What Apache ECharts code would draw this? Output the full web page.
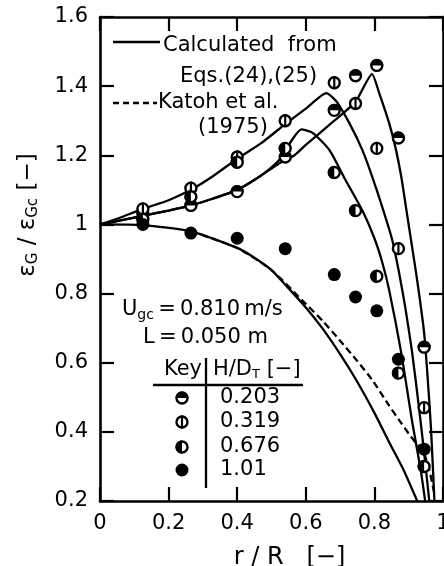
<!DOCTYPE html>
<html lang="en">
<head>
    <meta charset="UTF-8">
    <title>Gas holdup profile</title>
    <script src="https://cdn.jsdelivr.net/npm/echarts@6/dist/echarts.min.js"></script>
    <style>
        html, body { margin: 0; padding: 0; background: #fff; }
        #stat-1 { width: 444px; height: 566px; }
    </style>
</head>
<body>
<div id="stat-1"></div>
<script type="text/javascript">
    // measured points, r/R positions of the probes
    var rPts = [0.125, 0.265, 0.40, 0.54, 0.683, 0.745, 0.807, 0.87, 0.945];
    var h0203 = [1.03, 1.055, 1.095, 1.195, 1.33, 1.43, 1.46, 1.25, 0.645];
    var h0319 = [1.045, 1.105, 1.195, 1.30, 1.41, 1.35, 1.22, 0.93, 0.47];
    var h0676 = [1.015, 1.08, 1.18, 1.22, 1.15, 1.04, 0.85, 0.57, 0.30];
    var h101  = [1.0, 0.975, 0.96, 0.93, 0.855, 0.79, 0.75, 0.61, 0.35];

    // calculated curves
    var calcA_r = [0, 0.06, 0.125, 0.2, 0.265, 0.33, 0.4, 0.46, 0.5, 0.53, 0.56, 0.587, 0.62, 0.669, 0.715, 0.765, 0.80, 0.823, 0.843, 0.878, 0.91, 0.935, 0.948];
    var calcA_y = [1, 1.012, 1.025, 1.04, 1.055, 1.075, 1.10, 1.135, 1.165, 1.195, 1.245, 1.275, 1.265, 1.215, 1.13, 1.04, 0.96, 0.89, 0.81, 0.63, 0.43, 0.29, 0.2];
    var calcB_r = [0, 0.06, 0.125, 0.2, 0.265, 0.33, 0.4, 0.47, 0.54, 0.6, 0.66, 0.69, 0.727, 0.765, 0.794, 0.823, 0.852, 0.872, 0.89, 0.91, 0.93, 0.945, 0.96];
    var calcB_y = [1, 1.02, 1.045, 1.07, 1.10, 1.14, 1.19, 1.235, 1.29, 1.335, 1.38, 1.355, 1.293, 1.215, 1.137, 1.05, 0.955, 0.86, 0.76, 0.63, 0.47, 0.34, 0.2];
    var calcC_r = [0, 0.06, 0.125, 0.2, 0.265, 0.33, 0.4, 0.46, 0.52, 0.567, 0.6, 0.683, 0.745, 0.793, 0.814, 0.843, 0.862, 0.878, 0.892, 0.906, 0.92, 0.933, 0.945, 0.955, 0.965, 0.975];
    var calcC_y = [1, 1.012, 1.025, 1.04, 1.055, 1.075, 1.10, 1.135, 1.175, 1.20, 1.23, 1.30, 1.355, 1.435, 1.38, 1.293, 1.22, 1.14, 1.05, 0.96, 0.87, 0.78, 0.686, 0.56, 0.41, 0.2];
    var calcD_r = [0, 0.125, 0.265, 0.4, 0.44, 0.5, 0.55, 0.6, 0.648, 0.7, 0.747, 0.8, 0.843, 0.885, 0.925];
    var calcD_y = [1, 0.998, 0.98, 0.932, 0.91, 0.868, 0.815, 0.76, 0.70, 0.625, 0.55, 0.455, 0.37, 0.29, 0.2];
    var katoh_r = [0.265, 0.4, 0.5, 0.59, 0.65, 0.698, 0.75, 0.794, 0.84, 0.872, 0.9, 0.921, 0.94, 0.96, 0.975];
    var katoh_y = [0.98, 0.932, 0.868, 0.78, 0.72, 0.666, 0.605, 0.55, 0.48, 0.434, 0.395, 0.368, 0.35, 0.29, 0.22];

    var xTicks = ['0', '0.2', '0.4', '0.6', '0.8', '1'];
    var keyLabels = ['0.203', '0.319', '0.676', '1.01'];
    var keyKinds = ['top', 'bar', 'left', 'full'];

    var FONT = 'DejaVu Sans';
    var MR = 6.5;

    function pairs(xs, ys) {
        var out = [];
        for (let i = 0; i < xs.length; i++) out.push([xs[i], ys[i]]);
        return out;
    }

    function markerShape(kind, cx, cy, r) {
        var kids = [];
        if (kind === 'full') {
            kids.push({type: 'circle', shape: {cx: cx, cy: cy, r: r}, style: {fill: '#000'}});
        } else {
            kids.push({type: 'circle', shape: {cx: cx, cy: cy, r: r - 1}, style: {fill: '#fff', stroke: '#000', lineWidth: 2.4}});
            if (kind === 'top') {
                kids.push({type: 'sector', shape: {cx: cx, cy: cy, r0: 0, r: r, startAngle: Math.PI, endAngle: 2 * Math.PI}, style: {fill: '#000'}});
            } else if (kind === 'left') {
                kids.push({type: 'sector', shape: {cx: cx, cy: cy, r0: 0, r: r, startAngle: Math.PI / 2, endAngle: 3 * Math.PI / 2}, style: {fill: '#000'}});
            } else if (kind === 'bar') {
                kids.push({type: 'rect', shape: {x: cx - 1.1, y: cy - r, width: 2.2, height: 2 * r}, style: {fill: '#000'}});
            }
        }
        return kids;
    }

    function markerSeries(name, ys, kind) {
        return {
            name: name,
            type: 'custom',
            z: 5,
            data: pairs(rPts, ys),
            renderItem: function (params, api) {
                var p = api.coord([api.value(0), api.value(1)]);
                return {type: 'group', children: markerShape(kind, p[0], p[1], MR)};
            }
        };
    }

    function lineSeries(name, xs, ys, dashed) {
        return {
            name: name,
            type: 'line',
            data: pairs(xs, ys),
            smooth: 0.2,
            showSymbol: false,
            symbol: 'none',
            z: 2,
            lineStyle: {color: '#000', width: 2.3, type: dashed ? [7, 4] : 'solid'}
        };
    }

    var f21 = '21px "' + FONT + '"';

    // legend / annotations
    var graphics = [
        {type: 'line', shape: {x1: 113, y1: 42, x2: 160, y2: 42}, style: {stroke: '#000', lineWidth: 2.3}},
        {type: 'text', x: 163, y: 46, style: {text: 'Calculated  from', font: f21, fill: '#000', verticalAlign: 'middle'}},
        {type: 'text', x: 180, y: 77, style: {text: 'Eqs.(24),(25)', font: f21, fill: '#000', verticalAlign: 'middle'}},
        {type: 'line', shape: {x1: 113, y1: 103, x2: 157, y2: 103}, style: {stroke: '#000', lineWidth: 2.3, lineDash: [6, 4]}},
        {type: 'text', x: 158, y: 103, style: {text: 'Katoh et al.', font: f21, fill: '#000', verticalAlign: 'middle'}},
        {type: 'text', x: 198, y: 128, style: {text: '(1975)', font: f21, fill: '#000', verticalAlign: 'middle'}},
        {type: 'text', x: 122, y: 310, style: {
            text: 'U{s|gc}\u2009=\u20090.810\u2009m/s', fill: '#000', verticalAlign: 'middle',
            font: f21,
            rich: {s: {fontSize: 14, fontFamily: FONT, padding: [10, 0, 0, 0]}}
        }},
        {type: 'text', x: 143, y: 338, style: {text: 'L\u2009=\u20090.050 m', font: f21, fill: '#000', verticalAlign: 'middle'}},
        {type: 'text', x: 202, y: 370, style: {text: 'Key', font: f21, fill: '#000', align: 'right', verticalAlign: 'middle'}},
        {type: 'text', x: 213, y: 370, style: {
            text: 'H/D{s|T} [−]', fill: '#000', verticalAlign: 'middle',
            font: f21,
            rich: {s: {fontSize: 13, fontFamily: FONT, padding: [10, 0, 0, 0]}}
        }},
        {type: 'line', shape: {x1: 206, y1: 358, x2: 206, y2: 488}, style: {stroke: '#000', lineWidth: 2.3}},
        {type: 'line', shape: {x1: 153, y1: 385, x2: 303, y2: 385}, style: {stroke: '#000', lineWidth: 2.3}},
        // y axis title, rotated
        {type: 'text', x: 28, y: 215, rotation: Math.PI / 2, style: {
            text: 'ε{s|G} / ε{s|Gc} [−]', fill: '#000', align: 'center', verticalAlign: 'middle',
            font: '23px "' + FONT + '"',
            rich: {s: {fontSize: 15, fontFamily: FONT, padding: [10, 0, 0, 0]}}
        }}
    ];
    var keyY = [398, 422, 447, 470];
    for (let i = 0; i < keyLabels.length; i++) {
        graphics.push({type: 'group', children: markerShape(keyKinds[i], 182, keyY[i], MR)});
        graphics.push({type: 'text', x: 220, y: keyY[i], style: {text: keyLabels[i], font: f21, fill: '#000', verticalAlign: 'middle'}});
    }

    var axisLine = {show: true, onZero: false, lineStyle: {color: '#000', width: 2.6}};
    var tickIn = {show: true, inside: true, length: 14, lineStyle: {color: '#000', width: 2.2}};

    var option1 = {
        animation: false,
        backgroundColor: '#fff',
        grid: {left: 100, right: 1, top: 17, bottom: 65, containLabel: false, outerBoundsMode: 'none'},
        xAxis: [{
            type: 'value', min: 0, max: 1, interval: 0.2,
            axisLine: axisLine, axisTick: tickIn, splitLine: {show: false},
            axisLabel: {
                color: '#000', fontSize: 21, fontFamily: FONT, margin: 12,
                formatter: function (v) { return xTicks[Math.round(v / 0.2)]; }
            },
            name: 'r / R   [−]', nameLocation: 'middle', nameGap: 45,
            nameTextStyle: {color: '#000', fontSize: 24, fontFamily: FONT, padding: [0, 0, 0, 36]}
        }, {
            type: 'value', position: 'top', min: 0, max: 1, interval: 0.2,
            axisLine: axisLine, axisTick: tickIn, axisLabel: {show: false}, splitLine: {show: false}
        }],
        yAxis: [{
            type: 'value', min: 0.2, max: 1.6, interval: 0.2,
            axisLine: axisLine, axisTick: tickIn, splitLine: {show: false},
            axisLabel: {color: '#000', fontSize: 21, fontFamily: FONT, margin: 12}
        }, {
            type: 'value', position: 'right', min: 0.2, max: 1.6, interval: 0.2,
            axisLine: axisLine, axisTick: tickIn, axisLabel: {show: false}, splitLine: {show: false}
        }],
        graphic: graphics,
        series: [
            lineSeries('calcA', calcA_r, calcA_y, false),
            lineSeries('calcB', calcB_r, calcB_y, false),
            lineSeries('calcC', calcC_r, calcC_y, false),
            lineSeries('calcD', calcD_r, calcD_y, false),
            lineSeries('Katoh', katoh_r, katoh_y, true),
            markerSeries('0.203', h0203, 'top'),
            markerSeries('0.319', h0319, 'bar'),
            markerSeries('0.676', h0676, 'left'),
            markerSeries('1.01', h101, 'full')
        ]
    };

    var myChart1 = echarts.init(document.getElementById('stat-1'));
    myChart1.setOption(option1);
</script>
</body>
</html>
